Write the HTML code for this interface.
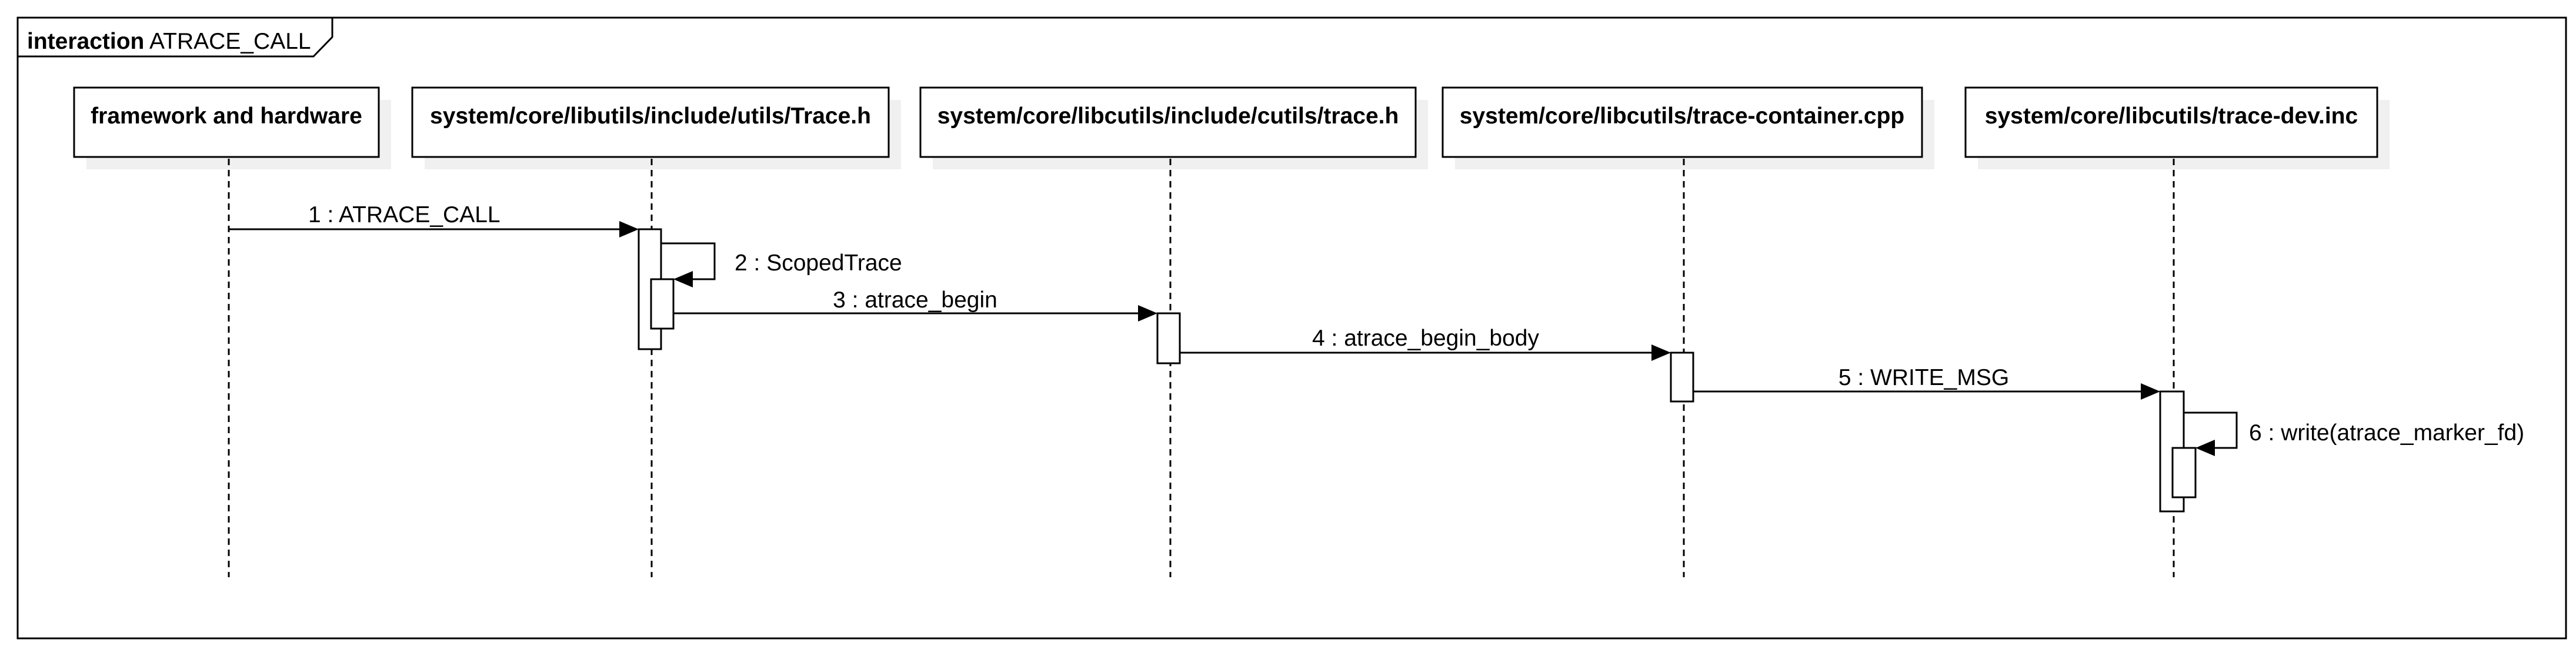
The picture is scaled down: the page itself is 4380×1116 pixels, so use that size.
<!DOCTYPE html>
<html><head><meta charset="utf-8"><style>
html,body{margin:0;padding:0;background:#fff;}
svg{display:block;}
text{font-family:"Liberation Sans",Arial,sans-serif;fill:#000;}
</style></head><body>
<svg width="4380" height="1116" viewBox="0 0 4380 1116" xmlns="http://www.w3.org/2000/svg">
<rect x="0" y="0" width="4380" height="1116" fill="#fff"/>
<rect x="30" y="30" width="4333" height="1056" fill="none" stroke="#000" stroke-width="3"/>
<polygon points="30,30 565,30 565,63 533,96 30,96" fill="#fff" stroke="#000" stroke-width="3"/>
<text x="46" y="83" font-size="39"><tspan font-weight="bold">interaction</tspan> ATRACE_CALL</text>

<g fill="#f0f0f0">
<rect x="147" y="170" width="518" height="118"/>
<rect x="722" y="170" width="810" height="118"/>
<rect x="1586" y="170" width="842" height="118"/>
<rect x="2474" y="170" width="815" height="118"/>
<rect x="3363" y="170" width="700" height="118"/>
</g>
<g fill="#fff" stroke="#000" stroke-width="3">
<rect x="126" y="149" width="518" height="118"/>
<rect x="701" y="149" width="810" height="118"/>
<rect x="1565" y="149" width="842" height="118"/>
<rect x="2453" y="149" width="815" height="118"/>
<rect x="3342" y="149" width="700" height="118"/>
</g>
<g font-size="39" font-weight="bold" text-anchor="middle">
<text x="385" y="210">framework and hardware</text>
<text x="1106" y="210">system/core/libutils/include/utils/Trace.h</text>
<text x="1986" y="210">system/core/libcutils/include/cutils/trace.h</text>
<text x="2860" y="210">system/core/libcutils/trace-container.cpp</text>
<text x="3692" y="210">system/core/libcutils/trace-dev.inc</text>
</g>

<g stroke="#000" stroke-width="3" stroke-dasharray="11,8">
<line x1="389" y1="270" x2="389" y2="982"/>
<line x1="1108" y1="270" x2="1108" y2="982"/>
<line x1="1990" y1="270" x2="1990" y2="982"/>
<line x1="2863" y1="270" x2="2863" y2="982"/>
<line x1="3696" y1="270" x2="3696" y2="982"/>
</g>

<g stroke="#000" stroke-width="3" fill="none">
<line x1="389" y1="390" x2="1060" y2="390"/>
<polyline points="1124,414 1215,414 1215,475 1170,475"/>
<line x1="1145" y1="533" x2="1940" y2="533"/>
<line x1="2006" y1="600" x2="2812" y2="600"/>
<line x1="2879" y1="666" x2="3643" y2="666"/>
<polyline points="3713,702 3803,702 3803,762 3760,762"/>
</g>
<g fill="#fff" stroke="#000" stroke-width="3">
<rect x="1086" y="390" width="38" height="204"/>
<rect x="1107" y="475" width="38" height="84"/>
<rect x="1968" y="533" width="38" height="85"/>
<rect x="2841" y="600" width="38" height="83"/>
<rect x="3673" y="666" width="40" height="204"/>
<rect x="3694" y="762" width="39" height="84"/>
</g>
<g fill="#000">
<polygon points="1086,390 1053,376 1053,404"/>
<polygon points="1145,475 1178,461 1178,489"/>
<polygon points="1968,533 1935,519 1935,547"/>
<polygon points="2841,600 2808,586 2808,614"/>
<polygon points="3673,666 3640,652 3640,680"/>
<polygon points="3733,762 3766,748 3766,776"/>
</g>

<g font-size="39">
<text x="524" y="378">1 : ATRACE_CALL</text>
<text x="1249" y="460">2 : ScopedTrace</text>
<text x="1556" y="523" text-anchor="middle">3 : atrace_begin</text>
<text x="2424" y="588" text-anchor="middle">4 : atrace_begin_body</text>
<text x="3271" y="655" text-anchor="middle">5 : WRITE_MSG</text>
<text x="3824" y="749">6 : write(atrace_marker_fd)</text>
</g>
</svg>
</body></html>
